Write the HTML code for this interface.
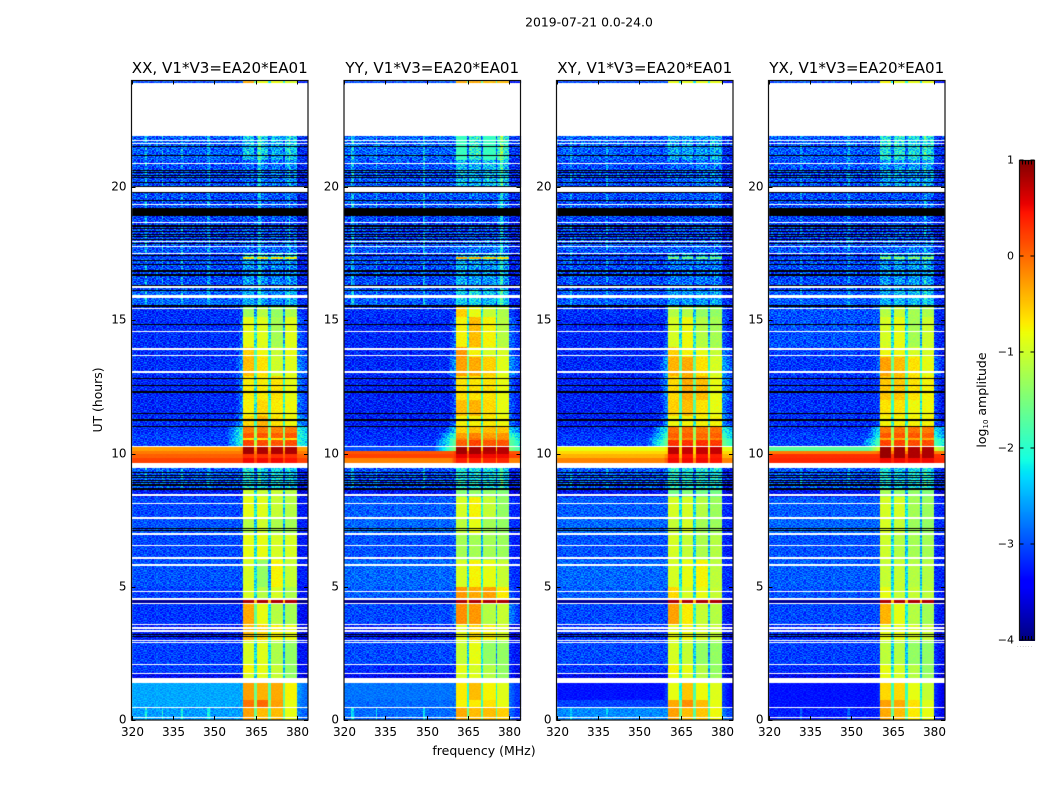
<!DOCTYPE html>
<html lang="en">
<head>
<meta charset="utf-8">
<title>2019-07-21 0.0-24.0</title>
<style>
html,body{margin:0;padding:0;background:#fff;}
#figure{position:relative;width:1050px;height:800px;background:#fff;overflow:hidden;}
canvas{position:absolute;display:block;}
svg{position:absolute;left:0;top:0;}
text{font-family:"DejaVu Sans","Liberation Sans",sans-serif;fill:#000;}
</style>
</head>
<body>
<div id="figure">
<canvas id="heat0" style="left:131px;top:80px" width="178" height="641"></canvas>
<canvas id="heat1" style="left:344px;top:80px" width="178" height="641"></canvas>
<canvas id="heat2" style="left:556px;top:80px" width="178" height="641"></canvas>
<canvas id="heat3" style="left:768px;top:80px" width="178" height="641"></canvas>
<canvas id="cbar" style="left:1019px;top:160px" width="16" height="481"></canvas>
<svg id="overlay" width="1050" height="800" viewBox="0 0 1050 800">
<text x="589" y="26.5" text-anchor="middle" font-size="12.4">2019-07-21 0.0-24.0</text>
<text x="484" y="755" text-anchor="middle" font-size="12.5">frequency (MHz)</text>
<text transform="translate(102,400) rotate(-90)" text-anchor="middle" font-size="12.4">UT (hours)</text>
<text transform="translate(986,400) rotate(-90)" text-anchor="middle" font-size="12.5">log<tspan font-size="7" dy="2">10</tspan><tspan dy="-2"> amplitude</tspan></text>
<text x="1017" y="647" font-size="5" letter-spacing="1.1" style="fill:#777">......</text>
</svg>
</div>
<script>
// Panel titles and axis ticks
const panelTitles = ["XX, V1*V3=EA20*EA01", "YY, V1*V3=EA20*EA01", "XY, V1*V3=EA20*EA01", "YX, V1*V3=EA20*EA01"];
const freqTicks = [320, 335, 350, 365, 380];
const timeTicks = [0, 5, 10, 15, 20];
const colorbarTicks = [-4, -3, -2, -1, 0, 1];

// Upper edge (UT hours) of each time band; each band runs down to the next value
const bandTops = [24, 23.9, 21, 20, 19, 18, 17.5, 17.37, 17.29, 16.1, 15.55, 15.1, 14, 13.6, 12.9, 12, 11.4, 11, 10.76, 10.56, 10.5, 10.25, 10.1, 9.99, 9.83, 9.45, 8.65, 8.35, 7.6, 7, 6, 5, 4.52, 4.4, 3.6, 3, 2.1, 1.75, 1.4, 0.75, 0.46];

// Estimated log10 amplitude per band: [background, level next to the windows, window1..window4]
const levelsXX = [
[-3,-3.4,-.5,-1,-1,-1.1],[-3.05,-3.4,-2.35,-2.3,-2.5,-2.3],[-3.15,-3.4,-2.9,-2.8,-2.8,-2.7],[-3.15,-3.4,-3,-2.9,-3,-2.9],
[-3.2,-3.4,-3,-3,-3,-2.9],[-3.1,-3.4,-2.9,-2.9,-2.9,-2.8],[-3.3,-3.4,-2.2,-2.3,-2.3,-2.3],[-3.1,-3.4,-.8,-.8,-.8,-.9],
[-3.15,-3.4,-2.6,-2.7,-2.7,-2.7],[-3,-3.4,-2.5,-2.6,-2.7,-2.5],[-3.3,-2.9,-1.45,-1.3,-1.5,-1.35],[-3.3,-2.8,-1,-1.05,-1.4,-1.05],
[-3.3,-2.7,-.7,-.95,-1.2,-1],[-3.3,-2.6,-.6,-.8,-1.15,-1.05],[-3.35,-2.7,-.85,-.85,-.8,-1],[-3.35,-2.7,-.9,-.75,-.85,-.95],
[-3.3,-2.5,-.75,-.55,-.8,-.95],[-3.3,-2,-.25,-.25,-.3,-.25],[-3.2,-1.9,.1,.1,.05,.1],[-3.2,-1.9,-.8,-.8,-.8,-.8],
[-3.2,-1.9,.2,.15,.1,.15],[-.3,-.1,.85,.8,.8,.8],[-.1,0,.85,.8,.8,.8],[.05,.15,.3,.3,.3,.3],
[.2,.25,.5,.5,.5,.45],[-3.05,-3.4,-2.1,-2.4,-2.2,-2.4],[-3.15,-3.4,-1.15,-1.2,-1.2,-1.3],[-2.85,-3.2,-1,-1.05,-1.2,-1.3],
[-2.8,-3.2,-1.3,-1.15,-1.35,-1.4],[-2.85,-3.2,-1,-1,-1.1,-1.1],[-2.8,-3.2,-1.1,-1.5,-.9,-1.2],[-2.9,-3.2,-1.1,-1.3,-1.1,-1.35],
[-3.9,-3.9,.8,.8,.8,.8],[-2.95,-3.2,-.5,-1,-1.3,-1.4],[-3.1,-3.3,-.6,-.75,-.9,-1],[-2.9,-3.2,-1.1,-1.05,-1.35,-1.5],
[-2.9,-3.2,-.9,-1,-1.2,-1.5],[-3.25,-3.3,-1.1,-1.05,-1.2,-1.5],[-2.45,-2.5,-.45,-.55,-.5,-.9],[-2.45,-2.6,-.2,-.15,-.45,-1],
[-2.5,-2.6,-.45,-.6,-.6,-1]
];
const levelsYY = [
[-3,-3.4,-.5,-.5,-.6,-.6],[-3,-3.4,-1.9,-2,-1.9,-2],[-3.1,-3.4,-2.4,-2.5,-2.4,-2.4],[-3.1,-3.4,-3,-2.9,-3,-2.8],
[-3.2,-3.4,-3,-3,-3,-2.9],[-3.1,-3.4,-2.9,-2.8,-2.8,-2.8],[-3.3,-3.4,-2.4,-2.4,-2.4,-2.4],[-3.1,-3.4,-.5,-.6,-.7,-.8],
[-3.15,-3.4,-2.5,-2.6,-2.6,-2.6],[-3.05,-3.4,-2.3,-2.2,-2.4,-2.3],[-3.3,-3,-.7,-1,-1.2,-1.35],[-3.35,-2.8,-.9,-.6,-.9,-1.3],
[-3.35,-2.8,-.4,-.9,-1.1,-1.1],[-3.35,-2.6,-.45,-.5,-.7,-1.05],[-3.4,-2.9,-.8,-.8,-.8,-1],[-3.4,-2.9,-.6,-.55,-.75,-1],
[-3.4,-2.8,-.9,-.9,-.85,-.95],[-3.35,-2.3,-.7,-.6,-.6,-.65],[-3.3,-1.9,-.45,-.3,-.45,-.4],[-3.3,-1.7,-.3,-.2,-.3,-.35],
[-3.25,-1.6,.05,.2,.1,-.05],[-3,-1.4,.85,.85,.8,.75],[.1,.25,.85,.85,.75,.75],[.2,.3,.55,.55,.5,.5],
[-.15,.2,.4,.4,.35,.35],[-3.1,-3.4,-2.1,-2.2,-2.2,-2.3],[-3.2,-3.4,-1.6,-1.5,-1.5,-1.6],[-2.75,-3.1,-1.1,-.9,-1.2,-1.5],
[-2.7,-3.1,-1.25,-1,-1.4,-1.5],[-2.8,-3.1,-1.4,-1.4,-1.4,-1.45],[-2.7,-3,-1.1,-.9,-1,-1.2],[-2.75,-2.9,-.4,-.5,-.45,-.85],
[-3.9,-3.9,.8,.8,.8,.8],[-2.85,-2.7,-.35,-.4,-1.3,-1.2],[-3.1,-3.3,-1,-.75,-.9,-1.1],[-2.85,-3.1,-1.2,-1,-1.5,-1.5],
[-3,-3.1,-1,-1.1,-1.3,-1.5],[-3.25,-3.3,-1.1,-1.05,-1.3,-1.5],[-2.7,-2.8,-.85,-.6,-.9,-1.05],[-2.75,-2.8,-.9,-.85,-.8,-1],
[-2.75,-2.8,-.5,-.6,-.6,-.7]
];
const levelsXY = [
[-3,-3.4,-1,-1,-1,-1],[-3.05,-3.4,-2.5,-2.5,-2.6,-2.5],[-3.15,-3.4,-2.9,-2.9,-2.8,-2.8],[-3.15,-3.4,-3,-3,-3,-2.9],
[-3.2,-3.4,-3,-3,-3,-3],[-3.1,-3.4,-2.9,-2.9,-2.9,-2.9],[-3.3,-3.4,-2.4,-2.4,-2.5,-2.5],[-3.1,-3.4,-1.6,-1.7,-1.7,-1.7],
[-3.15,-3.4,-2.8,-2.8,-2.8,-2.8],[-3.05,-3.4,-2.6,-2.6,-2.6,-2.6],[-3.3,-2.9,-1.3,-1.3,-1.5,-1.5],[-3.35,-2.9,-1.1,-.95,-1.3,-1.4],
[-3.35,-2.7,-.7,-.9,-1,-1.2],[-3.35,-2.5,-.55,-.5,-.8,-1.1],[-3.4,-2.6,-.75,-.5,-.6,-1],[-3.4,-2.7,-.7,-.6,-.8,-1],
[-3.4,-2.6,-.95,-.9,-.9,-.9],[-3.35,-2,-.2,-.2,-.25,-.2],[-3.25,-1.8,.05,.05,0,.05],[-3.25,-1.6,-.3,-.3,-.3,-.3],
[-3.2,-1.5,.3,.3,.3,.25],[-.85,-.6,.75,.7,.7,.7],[-.6,-.45,.75,.7,.7,.7],[-.4,-.1,.45,.45,.45,.4],
[-.15,.15,.5,.5,.5,.45],[-3.05,-3.4,-2,-2.1,-2.1,-2.2],[-3.2,-3.4,-1.7,-1.6,-1.7,-1.7],[-2.75,-3.1,-1.1,-1.1,-1.3,-1.45],
[-2.7,-3.1,-1.2,-1.1,-1.4,-1.45],[-2.8,-3.1,-1.1,-1.2,-1.35,-1.3],[-2.7,-3.1,-1.1,-1,-.9,-1.25],[-2.75,-3,-.75,-1.1,-1,-1.2],
[-3.9,-3.9,.8,.8,.8,.8],[-2.85,-3.1,-.45,-.85,-1.2,-1.3],[-2.95,-3.2,-1,-.95,-1.1,-1.2],[-2.85,-3.1,-1.1,-1.2,-1.5,-1.5],
[-2.95,-3.1,-.9,-1,-1.3,-1.5],[-3.3,-3.3,-1,-1.1,-1.3,-1.45],[-3.2,-3,-1,-.65,-.95,-1.05],[-2.95,-3,-.5,-.35,-.6,-1],
[-2.6,-2.7,-.45,-.6,-.65,-.95]
];
const levelsYX = [
[-3,-3.4,-.9,-1,-1,-1],[-3.05,-3.4,-2.1,-2.1,-2.2,-2.2],[-3.1,-3.4,-2.6,-2.6,-2.6,-2.6],[-3.15,-3.4,-3,-3,-3,-2.9],
[-3.2,-3.4,-3,-3,-3,-3],[-3.1,-3.4,-2.9,-2.9,-2.8,-2.8],[-3.3,-3.4,-2.4,-2.4,-2.4,-2.4],[-3.1,-3.4,-1.5,-1.5,-1.5,-1.5],
[-3.15,-3.4,-2.6,-2.6,-2.6,-2.6],[-3.05,-3.4,-2.5,-2.4,-2.4,-2.4],[-3.1,-3.1,-1.3,-1.2,-1.4,-1.35],[-3.1,-3.1,-1.1,-1,-1.4,-1.15],
[-3.2,-3,-.95,-.95,-1.1,-1.1],[-3.25,-2.8,-.45,-.6,-.8,-1],[-3.3,-3,-.65,-.65,-.8,-.9],[-3.3,-3,-.8,-.8,-.95,-.95],
[-3.3,-2.9,-.9,-.9,-.9,-.9],[-3.3,-2.2,-.25,-.2,-.2,-.25],[-3.2,-2.1,-.05,-.05,-.05,-.1],[-3.2,-1.8,-.5,-.5,-.5,-.5],
[-3.2,-1.7,.2,.2,.15,.15],[-1.7,-.9,.9,.85,.8,.8],[-.1,.1,.9,.85,.8,.8],[.3,.35,.9,.85,.8,.8],
[.35,.4,.5,.5,.5,.5],[-3.05,-3.4,-2.1,-2.3,-2.2,-2.2],[-3.2,-3.4,-1.4,-1.5,-1.5,-1.6],[-2.75,-3.1,-1.1,-1.1,-1.4,-1.45],
[-2.7,-3.1,-1.1,-1.2,-1.45,-1.5],[-2.8,-3.1,-1.15,-1.3,-1.4,-1.4],[-2.75,-3.1,-1.2,-1.2,-1.3,-1.3],[-2.8,-3.1,-1,-1.2,-1.2,-1.25],
[-3.9,-3.9,.8,.8,.8,.8],[-2.85,-3.1,-.55,-1,-1.3,-1.4],[-3,-3.2,-1,-1,-1.1,-1.2],[-2.9,-3.1,-1.25,-1.3,-1.5,-1.5],
[-3,-3.1,-1,-1.1,-1.3,-1.5],[-3.3,-3.3,-1,-1.1,-1.3,-1.45],[-3.2,-3.1,-.75,-.75,-1,-1.2],[-3.2,-3.1,-.45,-.5,-.8,-1.05],
[-3.15,-3.1,-.5,-.6,-.85,-1]
];
const panelLevels = [levelsXX, levelsYY, levelsXY, levelsYX];

// Colour calibration against the reference: background shift per band, and lift for mid-level window cells
const bandBackgroundShift = [0,.1,.1,.1,.1,.1,.1,.1,.1,.1,.12,.12,.12,.12,.12,.12,.12,.12,.12,.12,.12,0,0,0,0,.1,-.17,-.17,-.17,-.17,-.17,-.17,0,-.17,-.17,-.17,-.17,-.17,-.1,-.1,-.1];
const windowLift = 0.15;

// Band scatter (dex) and whether narrow-band interference is visible in each band
const bandGrain = [.3,.6,.6,.6,.6,.6,.6,.3,.6,.5,.45,.45,.45,.45,.45,.45,.45,.45,.4,.4,.4,.1,.06,.05,.05,.5,.45,.35,.35,.35,.35,.35,.05,.35,.4,.35,.35,.35,.15,.2,.25];
const bandRfi = [0,1,1,1,1,1,1,0,1,1,0,0,0,0,0,0,0,0,0,0,0,0,0,0,0,1,0,0,0,0,0,0,0,0,0,0,0,0,0,0,1];

// Spectral windows (MHz)
const windowStarts = [360.4, 365.6, 370.4, 375.5];
const windowEnds = [364.4, 369.7, 374.8, 379.8];

// Interference frequencies (MHz) and lift (dex) by polarisation
const rfiFreqs = [
  [325.1, 331.4, 338.3, 348, 366.5, 377.4],
  [323, 331.6, 349, 377],
  [325.1, 338.3, 377.4],
  [331.6, 349, 377]
];
const rfiLift = [.5, .6, .35, .35];

// Flagged rows in UT hours: [centre, thickness]
const whiteGaps = [[22.91,1.98],[21.74,.04],[21.65,.04],[20.9,.04],[19.9,.17],[19.36,.04],[18.67,.04],[17.97,.04],[17.77,.04],[17.5,.04],[16.24,.07],[15.9,.135],[15.46,.04],[14.59,.04],[13.92,.07],[13.68,.07],[13.06,.04],[10.28,.04],[9.55,.21],[8.43,.07],[8.11,.04],[7.59,.07],[6.98,.04],[6.55,.04],[6.08,.04],[5.83,.07],[4.84,.04],[4.54,.05],[4.36,.04],[3.57,.04],[3.48,.04],[3.42,.04],[3.33,.07],[2.99,.04],[2.91,.04],[2.07,.04],[1.73,.04],[1.47,.19],[.46,.04],[.08,.04]];
const blackRows = [[21.51,.04],[21.17,.04],[20.63,.04],[20.54,.04],[20.42,.04],[20.35,.04],[20.16,.04],[20.02,.04],[19.79,.04],[19.5,.04],[19.05,.3],[18.54,.04],[18.45,.04],[18.35,.04],[18.23,.04],[18.14,.04],[18.04,.04],[17.88,.04],[17.42,.04],[17.23,.04],[17.1,.04],[16.85,.04],[16.7,.04],[16.29,.04],[16.13,.04],[15.54,.08],[14.86,.04],[12.83,.04],[12.57,.04],[12.31,.04],[11.52,.04],[11.26,.04],[11,.04],[9.29,.04],[9.19,.04],[9.1,.04],[9,.04],[8.92,.04],[8.82,.04],[8.67,.04],[7.19,.04],[7.11,.04],[3.22,.04],[3.15,.04]];

// Hand-typed visual texture tile (digits 0-9) standing in for cell-level noise
const grainTile = [
"3719028465172930648157302964815",
"8260417395028614739250186347926",
"1594836207749102583671940825367",
"6028351974360872195408367219054",
"4873109652814036927581043762198",
"9150672483925718046392871560324",
"2786490135067392418759026384171",
"5341928706182450937164820597362",
"0962753418596273081446915720838",
"7418206935340861752903684172596",
"3605871249916037482561709348205",
"8192430576728195064387215960413",
"2657198340451726903815472096638",
"6934025187863042719508136427591",
"1470863925209587346172950683147",
"9528317046634190825746083129576"
];

const panelLefts = [131.5, 344, 556.5, 768.5];
const panelWidth = 176.5;
const plotTop = 80.5;
const plotBottom = 720;
const canvasLefts = [131, 344, 556, 768];
const svgNS = "http://www.w3.org/2000/svg";
const overlay = document.getElementById("overlay");

function xScale(panel, mhz) { return panelLefts[panel] + (mhz - 320) * panelWidth / 64; }
function yScale(hours) { return plotBottom - hours * (plotBottom - plotTop) / 24; }
function ramp(n, pts) {
  for (let i = 1; i < pts.length; i++) {
    if (n <= pts[i][0]) {
      const a = pts[i - 1], b = pts[i];
      return a[1] + (b[1] - a[1]) * (n - a[0]) / (b[0] - a[0]);
    }
  }
  return pts[pts.length - 1][1];
}
const jetR = [[0,0],[.35,0],[.66,1],[.89,1],[1,.5]];
const jetG = [[0,0],[.125,0],[.375,1],[.64,1],[.91,0],[1,0]];
const jetB = [[0,.5],[.11,1],[.34,1],[.65,0],[1,0]];
function jet(level) {
  const n = Math.max(0, Math.min(1, (level + 4) / 5));
  return "rgb(" + Math.round(255 * ramp(n, jetR)) + "," + Math.round(255 * ramp(n, jetG)) + "," + Math.round(255 * ramp(n, jetB)) + ")";
}
function bandOf(hours) {
  let b = 0;
  for (let i = 0; i < bandTops.length; i++) { if (hours <= bandTops[i]) b = i; }
  return b;
}
function windowLevel(s) { return (s > -1.8 && s < 0) ? s + windowLift : s; }
function baseLevel(row, mhz, band) {
  const bg = row[0] + bandBackgroundShift[band], edge = row[1];
  if (mhz < windowStarts[0]) return Math.max(bg, edge - 0.2 * (windowStarts[0] - mhz));
  if (mhz >= windowEnds[3]) return bg > -1 ? bg : Math.max(bg - 0.3, edge - 0.12 * (mhz - windowEnds[3]));
  for (let w = 0; w < 4; w++) {
    if (mhz >= windowStarts[w] && mhz < windowEnds[w]) return windowLevel(row[2 + w]);
    if (w < 3 && mhz >= windowEnds[w] && mhz < windowStarts[w + 1]) return Math.max(bg, windowLevel(row[2 + w]) - 1.3);
  }
  return bg;
}
function drawFlags(ctx, panel, list, colour) {
  ctx.fillStyle = colour;
  const cx = canvasLefts[panel], cy = 80;
  const x0 = Math.round(xScale(panel, 320)) - cx, x1 = Math.round(xScale(panel, 384)) - cx;
  list.forEach(function (f) {
    const top = Math.round(yScale(f[0] + f[1] / 2)) - cy;
    const h = Math.max(1, Math.round(yScale(f[0] - f[1] / 2)) - cy - top);
    ctx.fillRect(x0, top, x1 - x0, h);
  });
}
function drawHeatmap(panel) {
  const ctx = document.getElementById("heat" + panel).getContext("2d");
  const levels = panelLevels[panel];
  const cx = canvasLefts[panel], cy = 80;
  const rowStep = 24 / 640, chanStep = 0.5;
  for (let r = 0; r < 640; r++) {
    const hours = 24 - (r + 0.5) * rowStep;
    const b = bandOf(hours);
    const row = levels[b];
    const y0 = Math.round(yScale(hours + rowStep / 2)) - cy;
    const y1 = Math.round(yScale(hours - rowStep / 2)) - cy;
    const tileRow = grainTile[(r + panel * 5) % grainTile.length];
    for (let c = 0; c < 128; c++) {
      const mhz = 320 + (c + 0.5) * chanStep;
      let v = baseLevel(row, mhz, b);
      const digit = tileRow.charCodeAt((c + panel * 11) % tileRow.length) - 48;
      const amp = bandGrain[b] * ((v > -2) ? 0.25 : 1);
      const cold = v < -1.5;
      v += (digit - 4.5) / 4.5 * amp;
      if (bandRfi[b] && cold) {
        rfiFreqs[panel].forEach(function (f) {
          if (Math.abs(f - mhz) <= chanStep / 2) v += rfiLift[panel];
        });
      }
      const x0 = Math.round(xScale(panel, mhz - chanStep / 2)) - cx;
      const x1 = Math.round(xScale(panel, mhz + chanStep / 2)) - cx;
      ctx.fillStyle = jet(v);
      ctx.fillRect(x0, y0, x1 - x0, y1 - y0);
    }
  }
  drawFlags(ctx, panel, blackRows, "#000");
  drawFlags(ctx, panel, whiteGaps, "#fff");
}
function drawColorbar() {
  const ctx = document.getElementById("cbar").getContext("2d");
  const lo = colorbarTicks[0], hi = colorbarTicks[colorbarTicks.length - 1];
  for (let y = 0; y < 481; y++) {
    ctx.fillStyle = jet(hi - (y + 0.5) / 480 * (hi - lo));
    ctx.fillRect(0, y, 16, 1);
  }
}
function addLine(x1, y1, x2, y2, name, stroke, width) {
  const el = document.createElementNS(svgNS, "line");
  el.setAttribute("x1", x1);
  el.setAttribute("y1", y1);
  el.setAttribute("x2", x2);
  el.setAttribute("y2", y2);
  el.setAttribute("stroke", stroke || "#000");
  el.setAttribute("stroke-width", width || 1);
  
  
  overlay.appendChild(el);
}
function addText(x, y, str, anchor, size, name) {
  const el = document.createElementNS(svgNS, "text");
  el.setAttribute("x", x);
  el.setAttribute("y", y);
  el.setAttribute("text-anchor", anchor);
  el.setAttribute("font-size", size);
  
  
  el.textContent = str;
  overlay.appendChild(el);
}
function addFrame(x, y, w, h, name) {
  const el = document.createElementNS(svgNS, "rect");
  el.setAttribute("x", x);
  el.setAttribute("y", y);
  el.setAttribute("width", w);
  el.setAttribute("height", h);
  el.setAttribute("fill", "none");
  el.setAttribute("stroke", "#111");
  el.setAttribute("stroke-width", 1.2);
  
  
  overlay.appendChild(el);
}
function drawAxes(panel) {
  const L = panelLefts[panel], R = L + panelWidth;
  addFrame(L, plotTop, panelWidth, plotBottom - plotTop, "panel-frame");
  freqTicks.forEach(function (f) {
    const x = Math.round(xScale(panel, f)) + 0.5;
    addLine(x, plotBottom, x, plotBottom - 4, "x-tick-bottom");
    addLine(x, plotTop, x, plotTop + 4, "x-tick-top");
    addText(x, 736, String(f), "middle", 12, "x-tick-label");
  });
  timeTicks.forEach(function (t) {
    const y = Math.round(yScale(t)) + 0.5;
    addLine(L, y, L + 4, y, "y-tick-left");
    addLine(R, y, R - 4, y, "y-tick-right");
    addText(L - 5, y + 3, String(t), "end", 12, "y-tick-label");
  });
  addText(L + panelWidth / 2, 73, panelTitles[panel], "middle", 15.1, "panel-title");
}
function drawColorbarAxis() {
  const lo = colorbarTicks[0], hi = colorbarTicks[colorbarTicks.length - 1];
  const scale = function (v) { return 640 - (v - lo) * 480 / (hi - lo); };
  addFrame(1019.5, 160.5, 15, 479.5, "colorbar-frame");
  colorbarTicks.forEach(function (v) {
    const y = scale(v);
    addLine(1019.5, y, 1023.5, y, "colorbar-tick");
    addLine(1034.5, y, 1030.5, y, "colorbar-tick");
    const label = v < 0 ? "\u2212" + Math.abs(v) : String(v);
    addText(1014, y + 3.5, label, "end", 11, "colorbar-tick-label");
  });
  for (let i = 1; i <= 4; i++) {
    const x = 1019.5 + i * 3;
    addLine(x, 160.5, x, 164.5, "colorbar-top-minor-tick");
    addLine(x, 640, x, 636, "colorbar-bottom-minor-tick");
  }
}
for (let p = 0; p < 4; p++) {
  drawHeatmap(p);
  drawAxes(p);
}
drawColorbar();
drawColorbarAxis();
</script>
</body>
</html>
